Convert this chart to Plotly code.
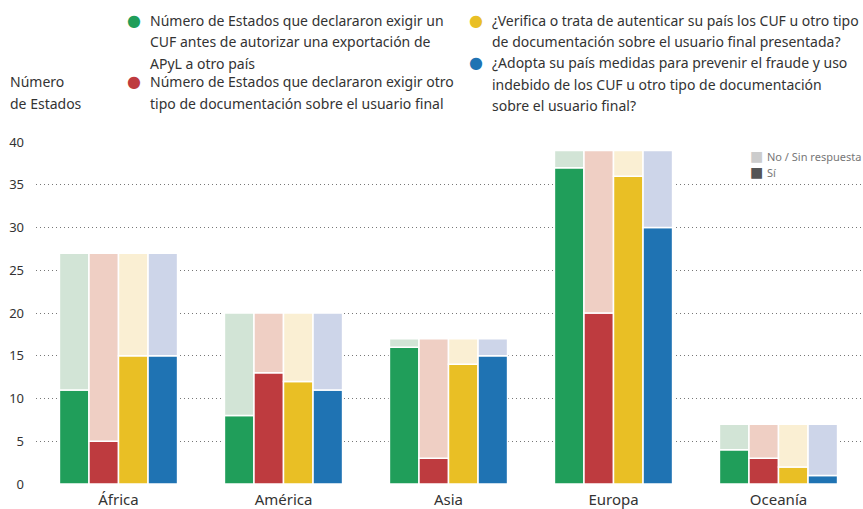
import plotly.graph_objects as go

regions = ["África", "América", "Asia", "Europa", "Oceanía"]
totals = [27, 20, 17, 39, 7]
series_lines = [
    ["Número de Estados que declararon exigir un",
     "CUF antes de autorizar una exportación de",
     "APyL a otro país"],
    ["Número de Estados que declararon exigir otro",
     "tipo de documentación sobre el usuario final"],
    ["¿Verifica o trata de autenticar su país los CUF u otro tipo",
     "de documentación sobre el usuario final presentada?"],
    ["¿Adopta su país medidas para prevenir el fraude y uso",
     "indebido de los CUF u otro tipo de documentación",
     "sobre el usuario final?"],
]
yes_cuf = [11, 8, 16, 37, 4]
yes_other = [5, 13, 3, 20, 3]
yes_verify = [15, 12, 14, 36, 2]
yes_fraud = [15, 11, 15, 30, 1]
yes_values = [yes_cuf, yes_other, yes_verify, yes_fraud]
y_title_lines = ["Número", "de Estados"]
key_labels = ["No / Sin respuesta", "Sí"]

dark = ["#209e5a", "#be3b3f", "#e9bf25", "#1f73b3"]
light = ["#d2e4d6", "#efcfc4", "#faefd3", "#cdd5e9"]

FONT = "Noto Sans"
L, R, T, B = 36, 2, 142, 25
W, H = 863, 509
PW, PH = W - L - R, H - T - B

fig = go.Figure()
for i, yes in enumerate(yes_values):
    no = [t - y for t, y in zip(totals, yes)]
    fig.add_trace(go.Bar(
        x=regions, y=yes, offsetgroup=str(i), name="Sí",
        marker=dict(color=dark[i], line=dict(color="white", width=1.5)),
        showlegend=False, hoverinfo="skip",
    ))
    fig.add_trace(go.Bar(
        x=regions, y=no, base=yes, offsetgroup=str(i), name="No / Sin respuesta",
        marker=dict(color=light[i], line=dict(color="white", width=1.5)),
        showlegend=False, hoverinfo="skip",
    ))

fig.update_layout(
    width=W, height=H,
    margin=dict(l=L, r=R, t=T, b=B),
    barmode="group", bargap=0.284, bargroupgap=0,
    plot_bgcolor="white", paper_bgcolor="white",
    font=dict(family=FONT, color="#333333"),
    showlegend=False,
)
fig.update_yaxes(
    range=[0, 40], tickvals=[0, 5, 10, 15, 20, 25, 30, 35, 40],
    showgrid=True, gridcolor="#777777", griddash="1px,3px", gridwidth=1,
    zeroline=False, showline=False, ticks="", automargin=False,
    tickfont=dict(size=13, color="#333333"), ticklabelstandoff=11,
)
fig.update_xaxes(
    showgrid=False, showline=False, ticks="", automargin=False,
    tickfont=dict(size=15, color="#333333"), ticklabelstandoff=5,
)


def px_to_paper(px, py):
    return (px - L) / PW, (H - B - py) / PH


ann = []
# y-axis title
for k, line in enumerate(y_title_lines):
    x0, y0 = px_to_paper(8, 82 + 22 * k)
    ann.append(dict(xref="paper", yref="paper", x=x0, y=y0, xanchor="left", yanchor="middle",
                    text=line, showarrow=False,
                    font=dict(size=14, color="#333333", family=FONT)))

# custom legend
legend_pos = [(134, 20), (134, 82), (476, 20), (476, 62)]
for i, (lx, ly) in enumerate(legend_pos):
    x0, y0 = px_to_paper(lx, ly)
    ann.append(dict(xref="paper", yref="paper", x=x0, y=y0, xanchor="center", yanchor="middle",
                    text="●", showarrow=False, font=dict(size=16, color=dark[i], family="DejaVu Sans")))
    for k, line in enumerate(series_lines[i]):
        x1, y1 = px_to_paper(lx + 14, ly + 22 * k)
        ann.append(dict(xref="paper", yref="paper", x=x1, y=y1, xanchor="left", yanchor="middle",
                        text=line, showarrow=False,
                        font=dict(size=14, color="#333333", family=FONT)))

# Sí / No key
for label, col, py in zip(key_labels, ["#cccccc", "#555555"], [156, 172]):
    x0, y0 = px_to_paper(756, py)
    ann.append(dict(xref="paper", yref="paper", x=x0, y=y0, xanchor="center", yanchor="middle",
                    text="■", showarrow=False, font=dict(size=14, color=col, family="DejaVu Sans")))
    x1, y1 = px_to_paper(765, py)
    ann.append(dict(xref="paper", yref="paper", x=x1, y=y1, xanchor="left", yanchor="middle",
                    text=label, showarrow=False, font=dict(size=11, color="#777777", family=FONT)))

fig.update_layout(annotations=ann)
fig.write_html(
    "out.html",
    config={"displayModeBar": False},
    post_script="document.body.style.margin='0';document.body.style.overflow='hidden';",
)
